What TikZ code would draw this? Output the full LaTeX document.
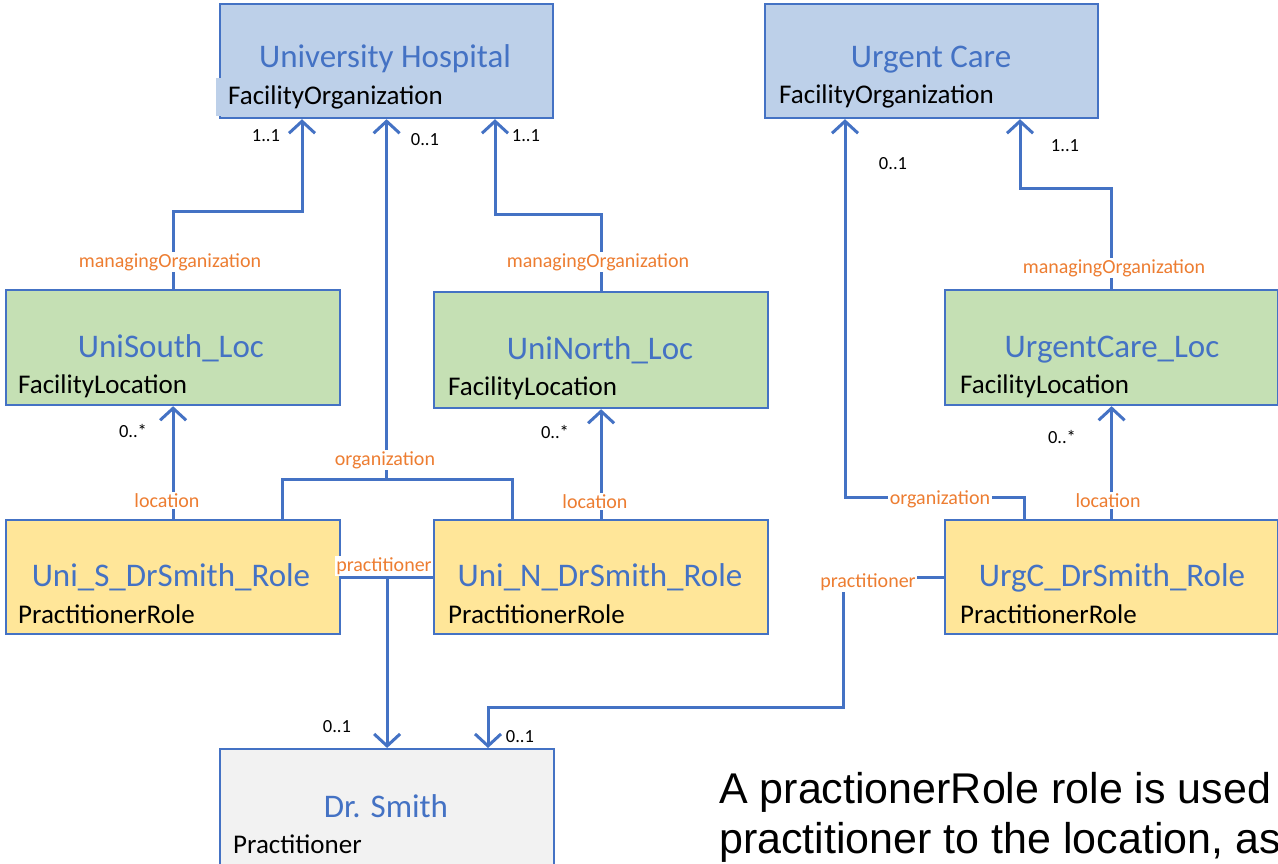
\documentclass[tikz,border=0pt]{standalone}
\usepackage{fontspec}
\setmainfont{Carlito}
\newfontfamily\arialf{Liberation Sans}
\usetikzlibrary{arrows.meta}
\definecolor{lineblue}{HTML}{4472C4}
\definecolor{ublue}{HTML}{BDD0E9}
\definecolor{ugreen}{HTML}{C5E0B4}
\definecolor{uyellow}{HTML}{FFE699}
\definecolor{ugray}{HTML}{F2F2F2}
\definecolor{uorange}{HTML}{ED7D31}
\tikzset{
  box/.style={draw=lineblue, line width=2.2pt, rectangle, anchor=north west, inner sep=0pt},
  ttl/.style={text=lineblue, font=\fontsize{33}{38}\selectfont, anchor=base, inner sep=0pt},
  typ/.style={text=black, font=\fontsize{27}{31}\selectfont, anchor=base west, inner sep=0pt},
  lbl/.style={text=uorange, font=\fontsize{20}{24}\selectfont, anchor=base, fill=white, inner sep=1.5pt},
  mult/.style={text=black, font=\fontsize{18.5}{22}\selectfont, anchor=base, inner sep=0pt},
  conn/.style={draw=lineblue, line width=3pt},
  arr/.style={-{Straight Barb[length=12pt,width=26pt]}},
  note/.style={font=\arialf\fontsize{43}{48}\selectfont, anchor=base west, inner sep=0pt}
}
\begin{document}
\begin{tikzpicture}[x=1pt,y=-1pt]
\useasboundingbox (0,0) rectangle (1278,864);
\clip (0,0) rectangle (1278,864);
% boxes
\node[box, fill=ublue, minimum width=333pt, minimum height=114pt] (uh) at (219,3) {};
\fill[ublue] (215.5,78) rectangle (221,116);
\node[box, fill=ublue, minimum width=333pt, minimum height=114pt] (uc) at (764,3) {};
\node[box, fill=ugreen, minimum width=334pt, minimum height=115pt] (usl) at (5,289) {};
\node[box, fill=ugreen, minimum width=334pt, minimum height=116pt] (unl) at (433,291) {};
\node[box, fill=ugreen, minimum width=333pt, minimum height=115pt] (ucl) at (944,289) {};
\node[box, fill=uyellow, minimum width=334pt, minimum height=114pt] (usr) at (5,519) {};
\node[box, fill=uyellow, minimum width=334pt, minimum height=114pt] (unr) at (433,519) {};
\node[box, fill=uyellow, minimum width=333pt, minimum height=114pt] (ucr) at (944,519) {};
\node[box, fill=ugray, minimum width=334pt, minimum height=140pt] (ds) at (219,748) {};
% titles and types
\node[ttl] (uhT) at (385,68) {University Hospital};
\node[typ] (uhY) at (228,105) {FacilityOrganization};
\node[ttl] (ucT) at (931,68) {Urgent Care};
\node[typ] (ucY) at (779,104) {FacilityOrganization};
\node[ttl] (uslT) at (171,357) {UniSouth\_Loc};
\node[typ] (uslY) at (18,393) {FacilityLocation};
\node[ttl] (unlT) at (600,359) {UniNorth\_Loc};
\node[typ] (unlY) at (448,395) {FacilityLocation};
\node[ttl] (uclT) at (1112,357) {UrgentCare\_Loc};
\node[typ] (uclY) at (960,393) {FacilityLocation};
\node[ttl] (usrT) at (171,586) {Uni\_S\_DrSmith\_Role};
\node[typ] (usrY) at (18,623) {PractitionerRole};
\node[ttl] (unrT) at (600,586) {Uni\_N\_DrSmith\_Role};
\node[typ] (unrY) at (448,623) {PractitionerRole};
\node[ttl] (ucrT) at (1112,586) {UrgC\_DrSmith\_Role};
\node[typ] (ucrY) at (960,623) {PractitionerRole};
\node[ttl] (dsT) at (386,817) {Dr. Smith};
\node[typ] (dsY) at (233,853) {Practitioner};
% connectors
\draw[conn,arr] (usl.north) |- (302,212) -- ([xshift=83pt]uh.south west);
\draw[conn,arr] (unl.north) |- (495,215) -- ([xshift=276pt]uh.south west);
\draw[conn,arr] (ucl.north) |- (1020,189) -- ([xshift=256pt]uc.south west);
\draw[conn,arr] (usr.north) -- (usl.south);
\draw[conn,arr] (unr.north) -- (unl.south);
\draw[conn,arr] (ucr.north) -- (ucl.south);
\coordinate (orgj) at (uh.south |- 0,479);
\draw[conn] ([xshift=277pt]usr.north west) |- (512,479) -- ([xshift=79pt]unr.north west);
\draw[conn,arr] (orgj) -- (uh.south);
\draw[conn,arr] ([xshift=80pt]ucr.north west) |- (845,497) -- ([xshift=81pt]uc.south west);
\draw[conn] (usr.east) -- (unr.west);
\coordinate (pj) at (ds.north |- usr.east);
\draw[conn,arr] (pj) -- (ds.north);
\draw[conn,arr] (ucr.west) -| (843,707) -| ([xshift=269pt]ds.north west);
% connector labels
\node[lbl] (l1) at (170,267) {managingOrganization};
\node[lbl] (l2) at (598,267) {managingOrganization};
\node[lbl] (l3) at (1114,273) {managingOrganization};
\node[lbl] (l4) at (167,507) {location};
\node[lbl] (l5) at (595,508) {location};
\node[lbl] (l6) at (1108,507) {location};
\node[lbl] (l7) at (385,465) {organization};
\node[lbl] (l8) at (940,504) {organization};
\node[lbl] (l9) at (384,571) {practitioner};
\node[lbl] (l10) at (868,587) {practitioner};
% multiplicities
\node[mult] (m1) at (266,142) {1..1};
\node[mult] (m2) at (425,146) {0..1};
\node[mult] (m3) at (526,142) {1..1};
\node[mult] (m4) at (893,170) {0..1};
\node[mult] (m5) at (1065,152) {1..1};
\node[mult] (m6) at (133,437) {0..*};
\node[mult] (m7) at (555,438) {0..*};
\node[mult] (m8) at (1062,443) {0..*};
\node[mult] (m9) at (337,732) {0..1};
\node[mult] (m10) at (520,742) {0..1};
% note text
\node[note] (n1) at (719,803) {A practionerRole role is used to};
\node[note] (n2) at (719,853) {practitioner to the location, as};
\end{tikzpicture}
\end{document}
